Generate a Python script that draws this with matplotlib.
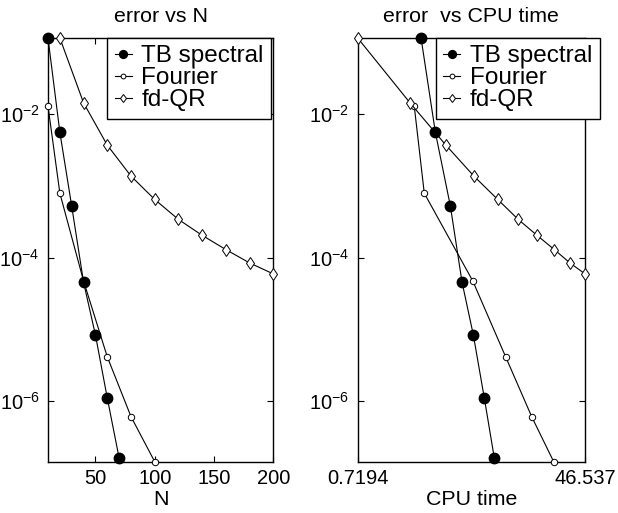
import matplotlib

matplotlib.use("Agg")

import matplotlib.pyplot as plt
from matplotlib.ticker import FixedLocator, FixedFormatter, NullLocator

# error vs N data
n_tb = [10, 20, 30, 40, 50, 60, 70]
err_tb = [0.1160, 5.6e-3, 5.2e-4, 4.5e-5, 8.3e-6, 1.09e-6, 1.58e-7]
cpu_tb = [2.30, 2.99, 3.94, 4.88, 6.00, 7.34, 8.82]

n_fourier = [10, 20, 40, 60, 80, 100]
err_fourier = [1.3e-2, 7.9e-4, 4.7e-5, 4.1e-6, 6.0e-7, 1.41e-7]
cpu_fourier = [2.03, 2.44, 5.94, 10.86, 17.5, 26.2]

n_fd = [20, 40, 60, 80, 100, 120, 140, 160, 180, 200]
err_fd = [0.1160, 1.44e-2, 3.7e-3, 1.37e-3, 6.46e-4, 3.4e-4, 2.04e-4, 1.29e-4, 8.4e-5, 5.9e-5]
cpu_fd = [0.7194, 1.88, 3.63, 6.06, 9.39, 13.67, 19.3, 26.5, 35.3, 46.537]

labels = ["TB spectral", "Fourier", "fd-QR"]
yticks = [1e-2, 1e-4, 1e-6]
ytick_labels = ["$10^{-2}$", "$10^{-4}$", "$10^{-6}$"]
cpu_ticks = [0.7194, 46.537]
cpu_tick_labels = ["0.7194", "46.537"]

plt.rcParams["font.family"] = "Liberation Sans"
plt.rcParams["mathtext.fontset"] = "custom"
plt.rcParams["mathtext.rm"] = "Liberation Sans"
plt.rcParams["mathtext.default"] = "regular"

W, H = 618, 513
fig = plt.figure(figsize=(W / 100, H / 100), dpi=100)
fig.patch.set_facecolor("white")


def px_axes(x0, y0, x1, y1):
    return fig.add_axes([x0 / W, 1 - y1 / H, (x1 - x0) / W, (y1 - y0) / H])


ax1 = px_axes(48, 38, 273.3, 461.7)
ax2 = px_axes(357.7, 38, 585, 461.7)

styles = [
    dict(marker="o", markersize=7.5, markerfacecolor="black", markeredgecolor="black", zorder=4),
    dict(marker="o", markersize=4.6, markerfacecolor="white", markeredgecolor="black",
         markeredgewidth=0.7, zorder=3),
    dict(marker="d", markersize=6.0, markerfacecolor="white", markeredgecolor="black",
         markeredgewidth=0.7, zorder=3),
]

series_n = [(n_tb, err_tb), (n_fourier, err_fourier), (n_fd, err_fd)]
series_t = [(cpu_tb, err_tb), (cpu_fourier, err_fourier), (cpu_fd, err_fd)]

for ax, series in ((ax1, series_n), (ax2, series_t)):
    for (x, y), st, lab in zip(series, styles, labels):
        ax.plot(x, y, color="black", linewidth=0.8, label=lab, clip_on=False, **st)
    ax.set_yscale("log")
    ax.set_ylim(1.41e-7, 0.1160)
    ax.yaxis.set_major_locator(FixedLocator(yticks))
    ax.yaxis.set_major_formatter(FixedFormatter(ytick_labels))
    ax.yaxis.set_minor_locator(NullLocator())
    ax.tick_params(which="both", direction="in", top=True, right=True, length=4, width=0.8,
                   labelsize=14.5)
    ax.tick_params(axis="x", pad=5)
    ax.tick_params(axis="y", pad=6)
    for sp in ax.spines.values():
        sp.set_linewidth(1.0)

ax1.set_xlim(10, 200)
ax1.set_xticks([50, 100, 150, 200])
ax1.set_xlabel("N", fontsize=15.4, labelpad=2)
ax1.set_title("error vs N", fontsize=15.4, pad=11.7)

ax2.set_xscale("log")
ax2.set_xlim(0.7194, 46.537)
ax2.xaxis.set_major_locator(FixedLocator(cpu_ticks))
ax2.xaxis.set_major_formatter(FixedFormatter(cpu_tick_labels))
ax2.xaxis.set_minor_locator(NullLocator())
ax2.set_xlabel("CPU time", fontsize=15.4, labelpad=2)
ax2.set_title("error  vs CPU time", fontsize=15.4, pad=11.7)

for ax, left in ((ax1, 107.3), (ax2, 436)):
    leg = ax.legend(loc="upper left", bbox_to_anchor=(left / W, 1 - 38 / H),
                    bbox_transform=fig.transFigure, borderaxespad=0,
                    fontsize=17.5, frameon=True, fancybox=False, edgecolor="black",
                    framealpha=1, handlelength=0.7, handletextpad=0.4, labelspacing=0.0,
                    borderpad=0.3, markerscale=0.75)
    leg.get_frame().set_linewidth(1.0)
    leg.set_zorder(5)

fig.savefig("out.png", dpi=100, facecolor="white")
